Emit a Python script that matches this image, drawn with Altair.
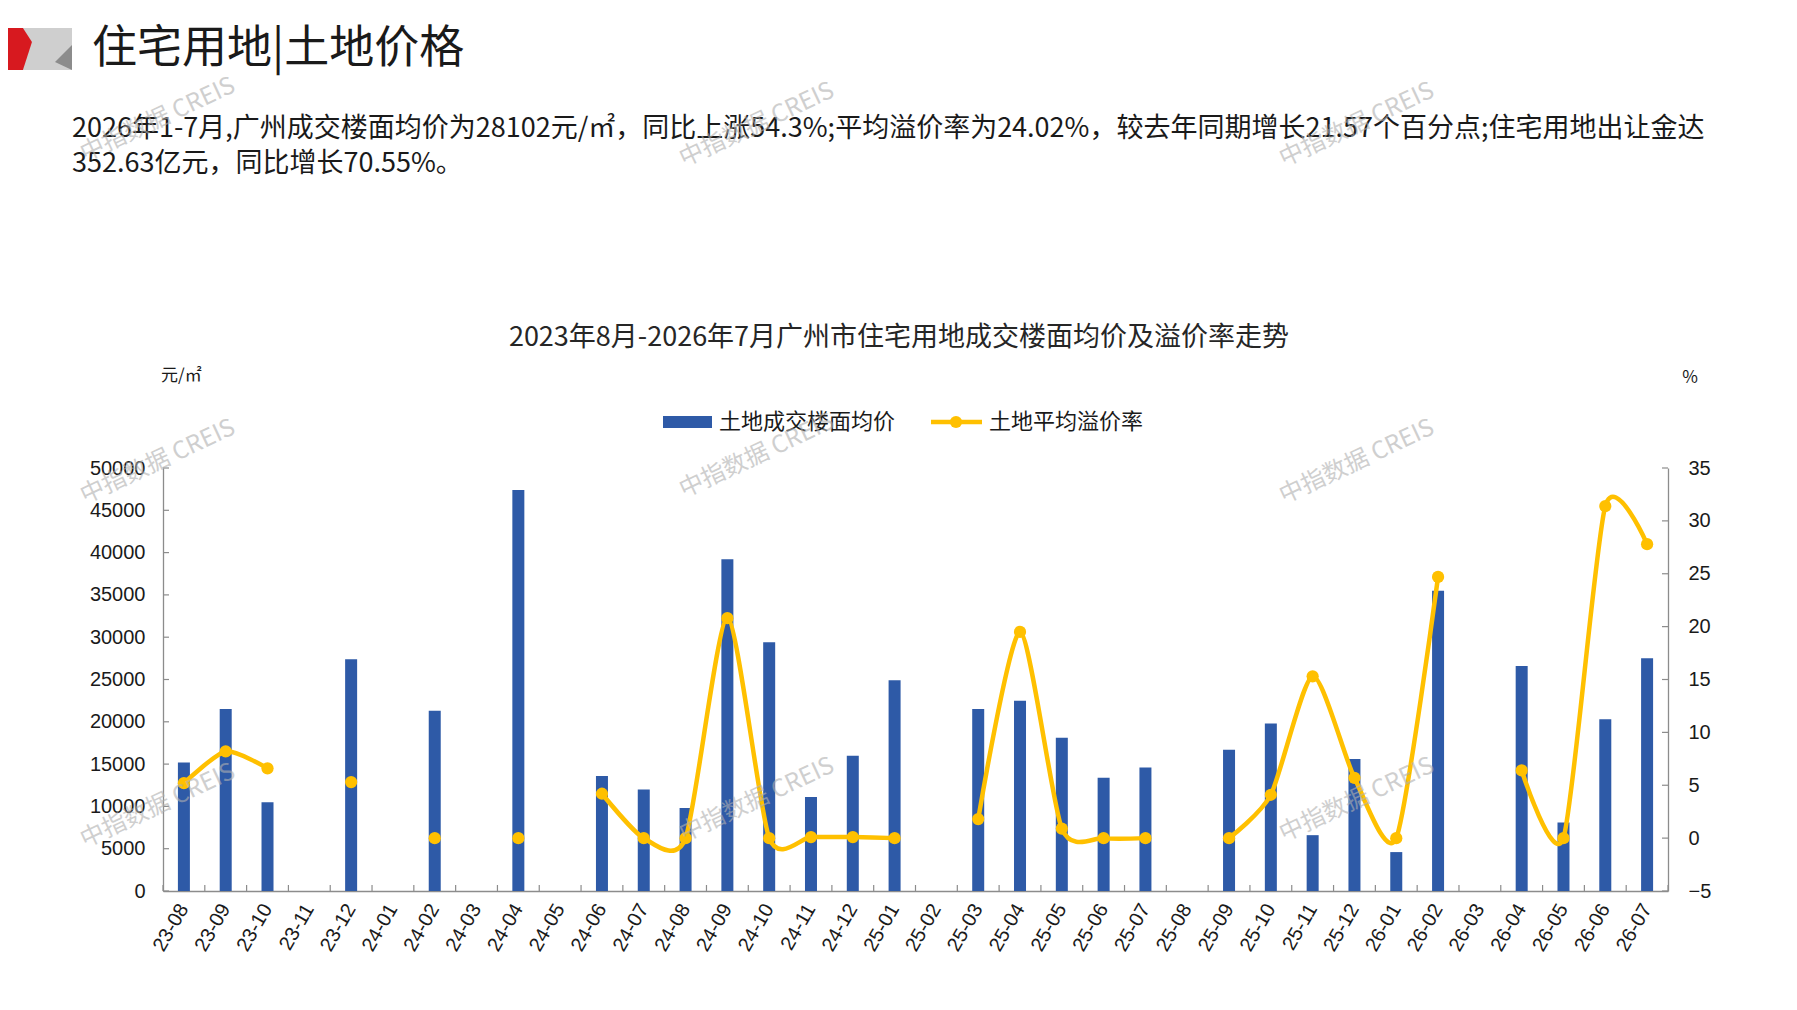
import altair as alt
import pandas as pd

months = ["23-08","23-09","23-10","23-11","23-12","24-01","24-02","24-03","24-04","24-05",
          "24-06","24-07","24-08","24-09","24-10","24-11","24-12","25-01","25-02","25-03",
          "25-04","25-05","25-06","25-07","25-08","25-09","25-10","25-11","25-12","26-01",
          "26-02","26-03","26-04","26-05","26-06","26-07"]
price = [15200, 21500, 10500, None, 27400, None, 21300, None, 47400, None,
         13600, 12000, 9800, 39200, 29400, 11100, 16000, 24900, None, 21500,
         22500, 18100, 13400, 14600, None, 16700, 19800, 6600, 15600, 4600,
         35500, None, 26600, 8100, 20300, 27500]
rate = [5.2, 8.2, 6.6, None, 5.3, None, 0.0, None, 0.0, None,
        4.2, 0.0, 0.0, 20.8, 0.0, 0.1, 0.1, 0.0, None, 1.8,
        19.5, 0.9, 0.0, 0.0, None, 0.0, 4.1, 15.3, 5.7, 0.0,
        24.7, None, 6.4, 0.0, 31.4, 27.8]
left_ticks = [0, 5000, 10000, 15000, 20000, 25000, 30000, 35000, 40000, 45000, 50000]
right_ticks = [-5, 0, 5, 10, 15, 20, 25, 30, 35]

series_bar = "土地成交楼面均价"
series_line = "土地平均溢价率"
header = "住宅用地|土地价格"
para1 = "2026年1-7月,广州成交楼面均价为28102元/㎡，同比上涨54.3%;平均溢价率为24.02%，较去年同期增长21.57个百分点;住宅用地出让金达"
para2 = "352.63亿元，同比增长70.55%。"
chart_title = "2023年8月-2026年7月广州市住宅用地成交楼面均价及溢价率走势"
unit_left = "元/㎡"
unit_right = "%"
watermark = "中指数据 CREIS"

# line segments break at missing months
seg = []
s = 0
prev_null = False
for r in rate:
    if r is None:
        prev_null = True
        seg.append(None)
    else:
        if prev_null:
            s += 1
        prev_null = False
        seg.append(s)

df = pd.DataFrame({"month": months, "price": price, "rate": rate, "seg": seg})

W, H = 1505, 423
BLUE = "#2E5AA7"
YELLOW = "#FFC000"
GRAY = "#8C8C8C"
CJK = "Noto Sans CJK SC"
NUM = "Liberation Sans"

xscale = alt.Scale(domain=months, paddingInner=0, paddingOuter=0)
xaxis = alt.Axis(labelAngle=-60, labelFont=NUM, labelFontSize=20, labelColor="#1a1a1a",
                 labelPadding=14, ticks=False, tickSize=0, domainColor=GRAY, domainWidth=1.6,
                 labelAlign="right", labelBaseline="middle")
X = alt.X("month:N", sort=months, scale=xscale, axis=xaxis, title=None)

lscale = alt.Scale(domain=[0, 50000], nice=False)
laxis = alt.Axis(values=left_ticks, format="d", labelFont=NUM, labelFontSize=20,
                 labelColor="#1a1a1a", labelPadding=18, ticks=False, tickSize=0,
                 domainColor=GRAY, domainWidth=1.3, grid=False)
rscale = alt.Scale(domain=[-5, 35], nice=False, zero=False)
raxis = alt.Axis(values=right_ticks, format="d", labelFont=NUM, labelFontSize=20,
                 labelColor="#1a1a1a", labelPadding=20, ticks=False, tickSize=0,
                 domainColor=GRAY, domainWidth=1.3, grid=False, orient="right")

bars = alt.Chart(df).mark_bar(width=12, color=BLUE).encode(
    x=X, y=alt.Y("price:Q", scale=lscale, axis=laxis, title=None))
lt = alt.Chart(pd.DataFrame({"price": left_ticks})).mark_rule(color=GRAY, strokeWidth=1.2).encode(
    y=alt.Y("price:Q", scale=lscale, axis=laxis, title=None), x=alt.value(0), x2=alt.value(6))
xt = alt.Chart(df).mark_rule(color=GRAY, strokeWidth=1.2).encode(
    x=alt.X("month:N", sort=months, scale=xscale, axis=xaxis, title=None, bandPosition=0),
    y=alt.value(H), y2=alt.value(H - 6))
xt_end = alt.Chart(df.tail(1)).mark_rule(color=GRAY, strokeWidth=1.2).encode(
    x=alt.X("month:N", sort=months, scale=xscale, axis=xaxis, title=None, bandPosition=1),
    y=alt.value(H), y2=alt.value(H - 6))
left_group = alt.layer(bars, lt, xt, xt_end)

RY = alt.Y("rate:Q", scale=rscale, axis=raxis, title=None)
line = alt.Chart(df).mark_line(interpolate="cardinal", tension=0.3, color=YELLOW, strokeWidth=4.5).encode(
    x=X, y=RY, detail="seg:N")
pts = alt.Chart(df).mark_circle(size=150, color=YELLOW, opacity=1).encode(x=X, y=RY)
rt = alt.Chart(pd.DataFrame({"rate": right_ticks})).mark_rule(color=GRAY, strokeWidth=1.2).encode(
    y=RY, x=alt.value(W - 6), x2=alt.value(W))
right_group = alt.layer(line, pts, rt)


def txt(t, x, y, size, font=CJK, color="#1a1a1a", align="left", angle=0, opacity=1.0, weight="normal"):
    return alt.Chart(pd.DataFrame({"t": [t]})).mark_text(
        font=font, fontSize=size, color=color, align=align, baseline="middle",
        angle=angle, opacity=opacity, fontWeight=weight).encode(
        text="t:N", x=alt.value(x), y=alt.value(y))


one = pd.DataFrame({"k": [0]})
logo_base = alt.Chart(one).mark_rect(color="#cfcfcf").encode(
    x=alt.value(23 - 163), x2=alt.value(72 - 163), y=alt.value(28 - 468), y2=alt.value(70 - 468))
logo_dark = alt.Chart(one).mark_point(
    shape="M0.68,-1 L-0.68,0.36 L0.68,1 Z", filled=True, color="#8c8c8c", size=625, opacity=1).encode(
    x=alt.value(63.5 - 163), y=alt.value(57.5 - 468))
logo_red = alt.Chart(one).mark_point(
    shape="M-0.76,-1 L0.33,-1 L0.76,-0.33 L0.33,1 L-0.76,1 Z", filled=True, color="#D7191F",
    size=1764, opacity=1).encode(x=alt.value(16 - 163), y=alt.value(49 - 468))

leg_rect = alt.Chart(one).mark_rect(color=BLUE).encode(
    x=alt.value(500), x2=alt.value(549), y=alt.value(-52), y2=alt.value(-40))
leg_line = alt.Chart(one).mark_rule(color=YELLOW, strokeWidth=4.5).encode(
    x=alt.value(768), x2=alt.value(819), y=alt.value(-46))
leg_pt = alt.Chart(one).mark_circle(color=YELLOW, size=150, opacity=1).encode(
    x=alt.value(793), y=alt.value(-46))

decor = [
    logo_base, logo_dark, logo_red,
    txt(header, -71, -419, 45),
    txt(para1, -91, -339, 27),
    txt(para2, -91, -304, 27),
    txt(chart_title, 736, -130, 27, color="#262626", align="center"),
    txt(unit_left, -2, -92, 17),
    txt(unit_right, 1527, -90, 17, align="center"),
    leg_rect, leg_line, leg_pt,
    txt(series_bar, 556, -46, 22),
    txt(series_line, 826, -46, 22),
]
wm_pos = [(-5, -348), (594, -343), (1194, -343),
          (-5, -6), (594, -12), (1194, -6),
          (-5, 338), (594, 332), (1194, 332)]
for (wx, wy) in wm_pos:
    decor.append(txt(watermark, wx, wy, 24, font=CJK, color="#b0b0b0", align="center",
                     angle=335, opacity=0.6))

chart = alt.layer(left_group, right_group, *decor).resolve_scale(y="independent").properties(
    width=W, height=H,
    autosize=alt.AutoSizeParams(type="none"),
    padding={"left": 155, "top": 460, "right": 118, "bottom": 105},
    background="white",
).configure_view(stroke="transparent")

chart.save("out.html", embed_options={"renderer": "svg", "actions": False})
